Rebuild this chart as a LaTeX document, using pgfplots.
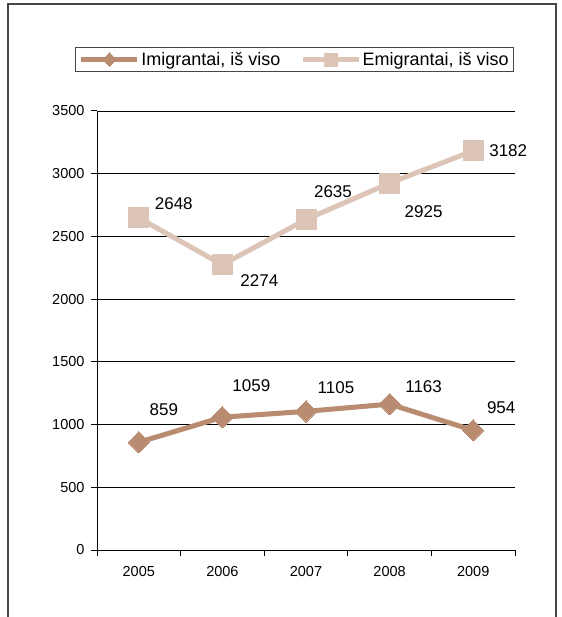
\documentclass[border=0pt]{standalone}
\usepackage{pgfplots}
\pgfplotsset{compat=1.18}
\usepackage{fontspec}
\setmainfont{Liberation Sans}
\definecolor{imi}{RGB}{185,139,112}
\definecolor{emi}{RGB}{220,196,182}
\definecolor{frame}{RGB}{70,70,70}
\newcommand{\tickfont}{\fontsize{14.5}{17}\selectfont}
\pgfplotstableread{
x y
0 859
1 1059
2 1105
3 1163
4 954
}\imitable
\pgfplotstableread{
x y
0 2648
1 2274
2 2635
3 2925
4 3182
}\emitable
\begin{document}
\begin{tikzpicture}
\begin{axis}[
  scale only axis, width=418pt, height=439pt,
  xmin=-0.5, xmax=4.5, ymin=0, ymax=3500,
  axis x line*=bottom, axis y line*=left,
  axis line style={black, line width=1pt, -},
  xtick={-0.5,0.5,...,4.5}, xticklabels={},
  extra x ticks={0,1,2,3,4},
  extra x tick labels={\tickfont 2005,\tickfont 2006,\tickfont 2007,\tickfont 2008,\tickfont 2009},
  extra x tick style={tick style={draw=none}},
  ytick={0,500,...,3500},
  yticklabels={\tickfont 0,\tickfont 500,\tickfont 1000,\tickfont 1500,\tickfont 2000,\tickfont 2500,\tickfont 3000,\tickfont 3500},
  tick align=outside, major tick length=6pt,
  tick style={black, line width=1pt},
  ymajorgrids, grid style={black, line width=0.9pt},
  scaled y ticks=false,
  yticklabel style={xshift=-3pt},
  xticklabel style={yshift=-7pt},
  clip=false,
  legend columns=2,
  legend style={at={(0.4725,1.1173)}, anchor=center, draw=frame, line width=1pt,
    font=\fontsize{18}{20}\selectfont, inner xsep=3pt, inner ysep=3pt,
    nodes={inner sep=1.5pt},
    /tikz/every even column/.append style={column sep=18pt}},
  legend image code/.code={%
    \draw[#1, mark=none] (0pt,0pt) -- (56pt,0pt);
    \draw[#1, every mark/.append style={scale=0.65}] plot coordinates {(28pt,0pt)};},
]
\path (axis cs:-0.5,0) coordinate (O);
\addplot[imi, line width=5pt, mark=square*, mark size=7.5pt, mark options={rotate=45, solid, line width=0pt}] table[x=x,y=y] {\imitable};
\addlegendentry{Imigrantai, iš viso}
\addplot[emi, line width=5pt, mark=square*, mark size=10pt, mark options={solid, line width=0pt}] table[x=x,y=y] {\emitable};
\addlegendentry{Emigrantai, iš viso}
\begin{scope}[every node/.style={font=\fontsize{17}{19}\selectfont, black}]
\node[xshift=35pt, yshift=14pt] at (axis cs:0,2648) {2648};
\node[xshift=37pt, yshift=-16pt] at (axis cs:1,2274) {2274};
\node[xshift=27pt, yshift=28pt] at (axis cs:2,2635) {2635};
\node[xshift=34pt, yshift=-29pt] at (axis cs:3,2925) {2925};
\node[xshift=35pt, yshift=0pt] at (axis cs:4,3182) {3182};
\node[xshift=25pt, yshift=33pt] at (axis cs:0,859) {859};
\node[xshift=29pt, yshift=32pt] at (axis cs:1,1059) {1059};
\node[xshift=30pt, yshift=24pt] at (axis cs:2,1105) {1105};
\node[xshift=34pt, yshift=17pt] at (axis cs:3,1163) {1163};
\node[xshift=28pt, yshift=23pt] at (axis cs:4,954) {954};
\end{scope}
\end{axis}
\pgfresetboundingbox
\begin{scope}[shift={(O)}, x=1pt, y=1pt]
\useasboundingbox (-97,-67) rectangle (464,550);
\draw[frame, line width=1.5pt] (-89,-69) -- (-89,546) -- (459,546) -- (459,-69);
\end{scope}
\end{tikzpicture}
\end{document}
